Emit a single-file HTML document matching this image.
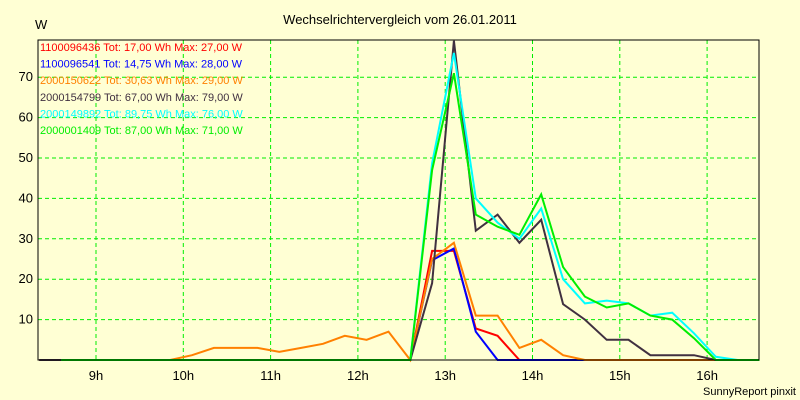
<!DOCTYPE html>
<html><head><meta charset="utf-8"><style>
body{margin:0;background:#ffffd4;}
svg{display:block;font-family:"Liberation Sans",sans-serif;}
</style></head><body>
<svg width="800" height="400" id="c">
<rect x="0" y="0" width="800" height="400" fill="#ffffd4"/>
<text x="400" y="24" text-anchor="middle" font-size="13">Wechselrichtervergleich vom 26.01.2011</text>
<text x="35" y="29" font-size="13">W</text>
<text x="796" y="395" text-anchor="end" font-size="11">SunnyReport pinxit</text>
<g id="grid"></g><g id="axes"></g><g id="lines"></g><g id="legend"></g>
<rect x="38" y="40" width="721" height="320" fill="none" stroke="#000" stroke-width="1"/>
</svg>
<script>
const times=[8.35,8.6,8.85,9.1,9.35,9.6,9.85,10.1,10.35,10.6,10.85,11.1,11.35,11.6,11.85,12.1,12.35,12.6,12.85,13.1,13.35,13.6,13.85,14.1,14.35,14.6,14.85,15.1,15.35,15.6,15.85,16.1,16.35,16.6];
const red=[0,0,0,0,0,0,0,0,0,0,0,0,0,0,0,0,0,0,27,27,7.8,6,0,0,0,0,0,0,0,0,0,0,0,0];
const blue=[0,0,0,0,0,0,0,0,0,0,0,0,0,0,0,0,0,0,24.7,27.6,7,0,0,0,0,0,0,0,0,0,0,0,0,0];
const orange=[0,0,0,0,0,0,0,1.2,3,3,3,2,3,4,6,5,7,0,25,29,11,11,3,5,1.2,0,0,0,0,0,0,0,0,0];
const dark=[0,0,0,0,0,0,0,0,0,0,0,0,0,0,0,0,0,0,19,79,32,36,29,34.7,13.8,10,5,5,1.2,1.2,1.2,0,0,0];
const cyan=[null,0,0,0,0,0,0,0,0,0,0,0,0,0,0,0,0,0,48.7,76,40,34,30,37.5,20,14,14.7,14,11,11.7,6.6,0.8,0,0];
const green=[null,0,0,0,0,0,0,0,0,0,0,0,0,0,0,0,0,0,47,71,36,33,31,41,23,15.7,13,14,11,10,5.4,0,0,0];
const yTicks=[10,20,30,40,50,60,70];
const xTicks=[9,10,11,12,13,14,15,16];
const legendText=["1100096436 Tot: 17,00 Wh Max: 27,00 W","1100096541 Tot: 14,75 Wh Max: 28,00 W","2000150622 Tot: 30,63 Wh Max: 29,00 W","2000154799 Tot: 67,00 Wh Max: 79,00 W","2000149892 Tot: 89,75 Wh Max: 76,00 W","2000001409 Tot: 87,00 Wh Max: 71,00 W"];
const seriesNames=["red","blue","orange","dark","cyan","green"];
const colors=["#ff0000","#0000ff","#ff8000","#403040","#00ffff","#00ee00"];
const series=[red,blue,orange,dark,cyan,green];
const NS="http://www.w3.org/2000/svg";
const xS=h=>96+(h-9)*87.3;
const yS=v=>360-v*4.04;
function mk(t,a,p){const e=document.createElementNS(NS,t);for(const k in a)e.setAttribute(k,a[k]);p.appendChild(e);return e;}
const grid=document.getElementById('grid'),axes=document.getElementById('axes'),lines=document.getElementById('lines'),legend=document.getElementById('legend');
yTicks.forEach(v=>{
 const l=mk('line',{x1:38,x2:759,y1:yS(v),y2:yS(v),stroke:'#00ee00','stroke-dasharray':'4,3'},grid);
 
 
 const t=mk('text',{x:33,y:yS(v)+4,'text-anchor':'end','font-size':13},axes);
 t.textContent=v;
 
 
});
xTicks.forEach(h=>{
 const l=mk('line',{x1:xS(h),x2:xS(h),y1:40,y2:360,stroke:'#00ee00','stroke-dasharray':'4,3'},grid);
 
 
 const t=mk('text',{x:xS(h),y:380,'text-anchor':'middle','font-size':13},axes);
 t.textContent=h+'h';
 
 
});
series.forEach((s,i)=>{
 const pts=[];
 s.forEach((v,j)=>{if(v!==null)pts.push(xS(times[j]).toFixed(1)+','+yS(v).toFixed(1));});
 const p=mk('polyline',{points:pts.join(' '),fill:'none',stroke:colors[i],'stroke-width':2,'stroke-linejoin':'miter'},lines);
 
 
});
legendText.forEach((txt,i)=>{
 const t=mk('text',{x:40,y:51+i*16.6,'font-size':11,fill:colors[i]},legend);
 t.textContent=txt;
 
 
});
</script>
</body></html>
